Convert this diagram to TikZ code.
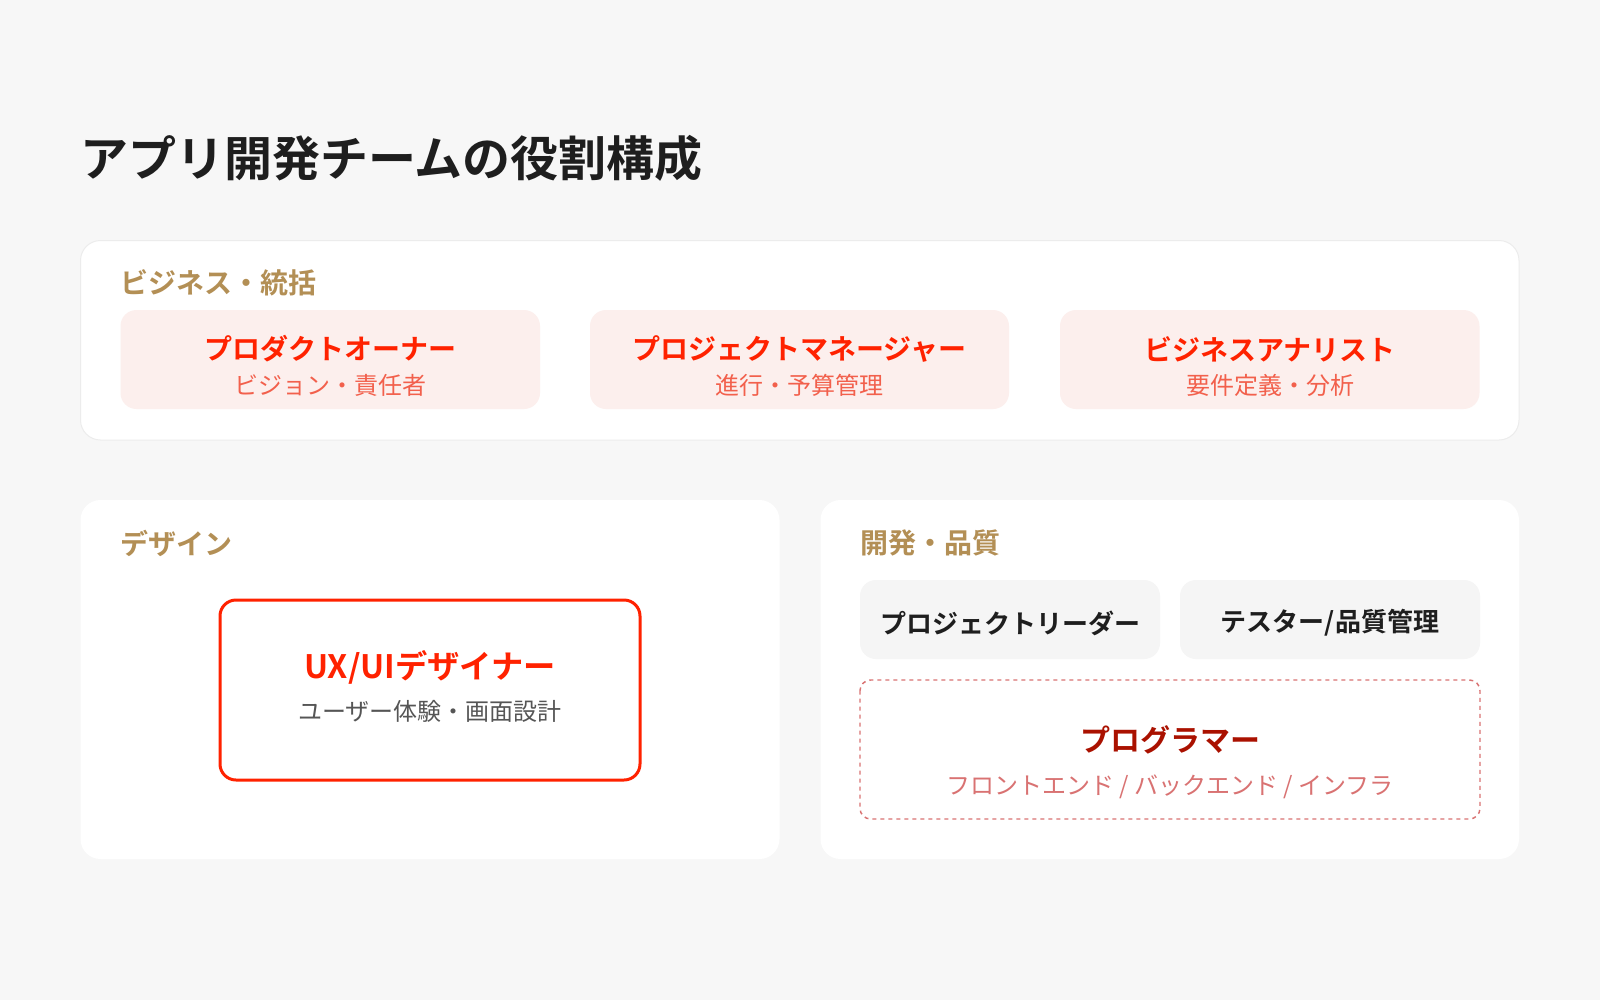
\documentclass[tikz,border=0pt]{standalone}
\usepackage{fontspec}
\setmainfont{Noto Sans CJK JP}[BoldFont={* Bold}]
\usepackage{tikz}

\definecolor{pagebg}{HTML}{F7F7F7}
\definecolor{panelline}{HTML}{ECECEC}
\definecolor{labeltan}{HTML}{B38F55}
\definecolor{cardpink}{HTML}{FCEFED}
\definecolor{rolered}{HTML}{FF2200}
\definecolor{subsalmon}{HTML}{F2604C}
\definecolor{subgray}{HTML}{555555}
\definecolor{cardgray}{HTML}{F5F5F5}
\definecolor{textdark}{HTML}{1E1E1E}
\definecolor{progred}{HTML}{AA1100}
\definecolor{dashline}{HTML}{D97272}

\begin{document}
\begin{tikzpicture}[x=0.75pt,y=0.75pt,yscale=-1,xscale=1,
	panel/.style={fill=white, rounded corners=15pt},
	pinkcard/.style={fill=cardpink, rounded corners=12pt},
	graycard/.style={fill=cardgray, rounded corners=12pt},
	grouplabel/.style={anchor=west, inner sep=0pt, text=labeltan, font=\fontsize{21pt}{25pt}\selectfont\bfseries},
	roletitle/.style={inner sep=0pt, text=rolered, font=\fontsize{21pt}{25pt}\selectfont\bfseries},
	rolesub/.style={inner sep=0pt, text=subsalmon, font=\fontsize{18pt}{22pt}\selectfont}
	]
	%Background
	\fill [pagebg] (0,0) rectangle (1600,1000) ;
	\useasboundingbox (0,0) rectangle (1600,1000) ;
	
	% Text Node
	\node (title) [anchor=west, inner sep=0pt, text=textdark, font=\fontsize{36pt}{42pt}\selectfont\bfseries] at (80,158) {アプリ開発チームの役割構成};
	
	%Shape: Panel business
	\draw [panel, draw=panelline, line width=0.75pt] (80.5,240.5) rectangle (1519,440) ;
	% Text Node
	\node (bizlabel) [grouplabel] at (120,283) {ビジネス・統括};
	
	%Shape: Cards
	\fill [pinkcard] (120.5,310) rectangle (540,409) ;
	\fill [pinkcard] (590,310) rectangle (1009,409) ;
	\fill [pinkcard] (1060,310) rectangle (1479.5,409) ;
	
	% Text Node
	\node (po) [roletitle] at (330,349) {プロダクトオーナー};
	\node (posub) [rolesub] at (330,385) {ビジョン・責任者};
	% Text Node
	\node (pm) [roletitle] at (799.5,349) {プロジェクトマネージャー};
	\node (pmsub) [rolesub] at (799.5,385) {進行・予算管理};
	% Text Node
	\node (ba) [roletitle] at (1270,349) {ビジネスアナリスト};
	\node (basub) [rolesub] at (1270,385) {要件定義・分析};
	
	%Shape: Panel design
	\fill [panel] (80.5,500) rectangle (779.5,859) ;
	% Text Node
	\node (designlabel) [grouplabel] at (120,543) {デザイン};
	
	%Shape: UX box
	\draw [draw=rolered, fill=white, line width=2.25pt, rounded corners=12pt] (220,600) rectangle (640,780) ;
	% Text Node
	\node (ux) [inner sep=0pt, text=rolered, font=\fontsize{24.2pt}{28pt}\selectfont\bfseries] at (430,667) {UX/UIデザイナー};
	\node (uxsub) [inner sep=0pt, text=subgray, font=\fontsize{18pt}{22pt}\selectfont] at (430,711) {ユーザー体験・画面設計};
	
	%Shape: Panel development
	\fill [panel] (820.5,500) rectangle (1519,859) ;
	% Text Node
	\node (devlabel) [grouplabel] at (860,543) {開発・品質};
	
	%Shape: Gray cards
	\fill [graycard] (860,580) rectangle (1160,659) ;
	\fill [graycard] (1180,580) rectangle (1480,659) ;
	% Text Node
	\node (pl) [inner sep=0pt, text=textdark, font=\fontsize{19.5pt}{23pt}\selectfont\bfseries] at (1010,623) {プロジェクトリーダー};
	\node (qa) [inner sep=0pt, text=textdark, font=\fontsize{19.5pt}{23pt}\selectfont\bfseries] at (1330,623) {テスター/品質管理};
	
	%Shape: Dashed box
	\draw [draw=dashline, line width=1.1pt, dash pattern=on 3pt off 3pt, rounded corners=8pt] (860,680) rectangle (1480,819) ;
	% Text Node
	\node (prog) [inner sep=0pt, text=progred, font=\fontsize{22.5pt}{26pt}\selectfont\bfseries] at (1170,740) {プログラマー};
	\node (progsub) [inner sep=0pt, text=dashline, font=\fontsize{18pt}{22pt}\selectfont] at (1170,787) {フロントエンド / バックエンド / インフラ};
	
\end{tikzpicture}
\end{document}
